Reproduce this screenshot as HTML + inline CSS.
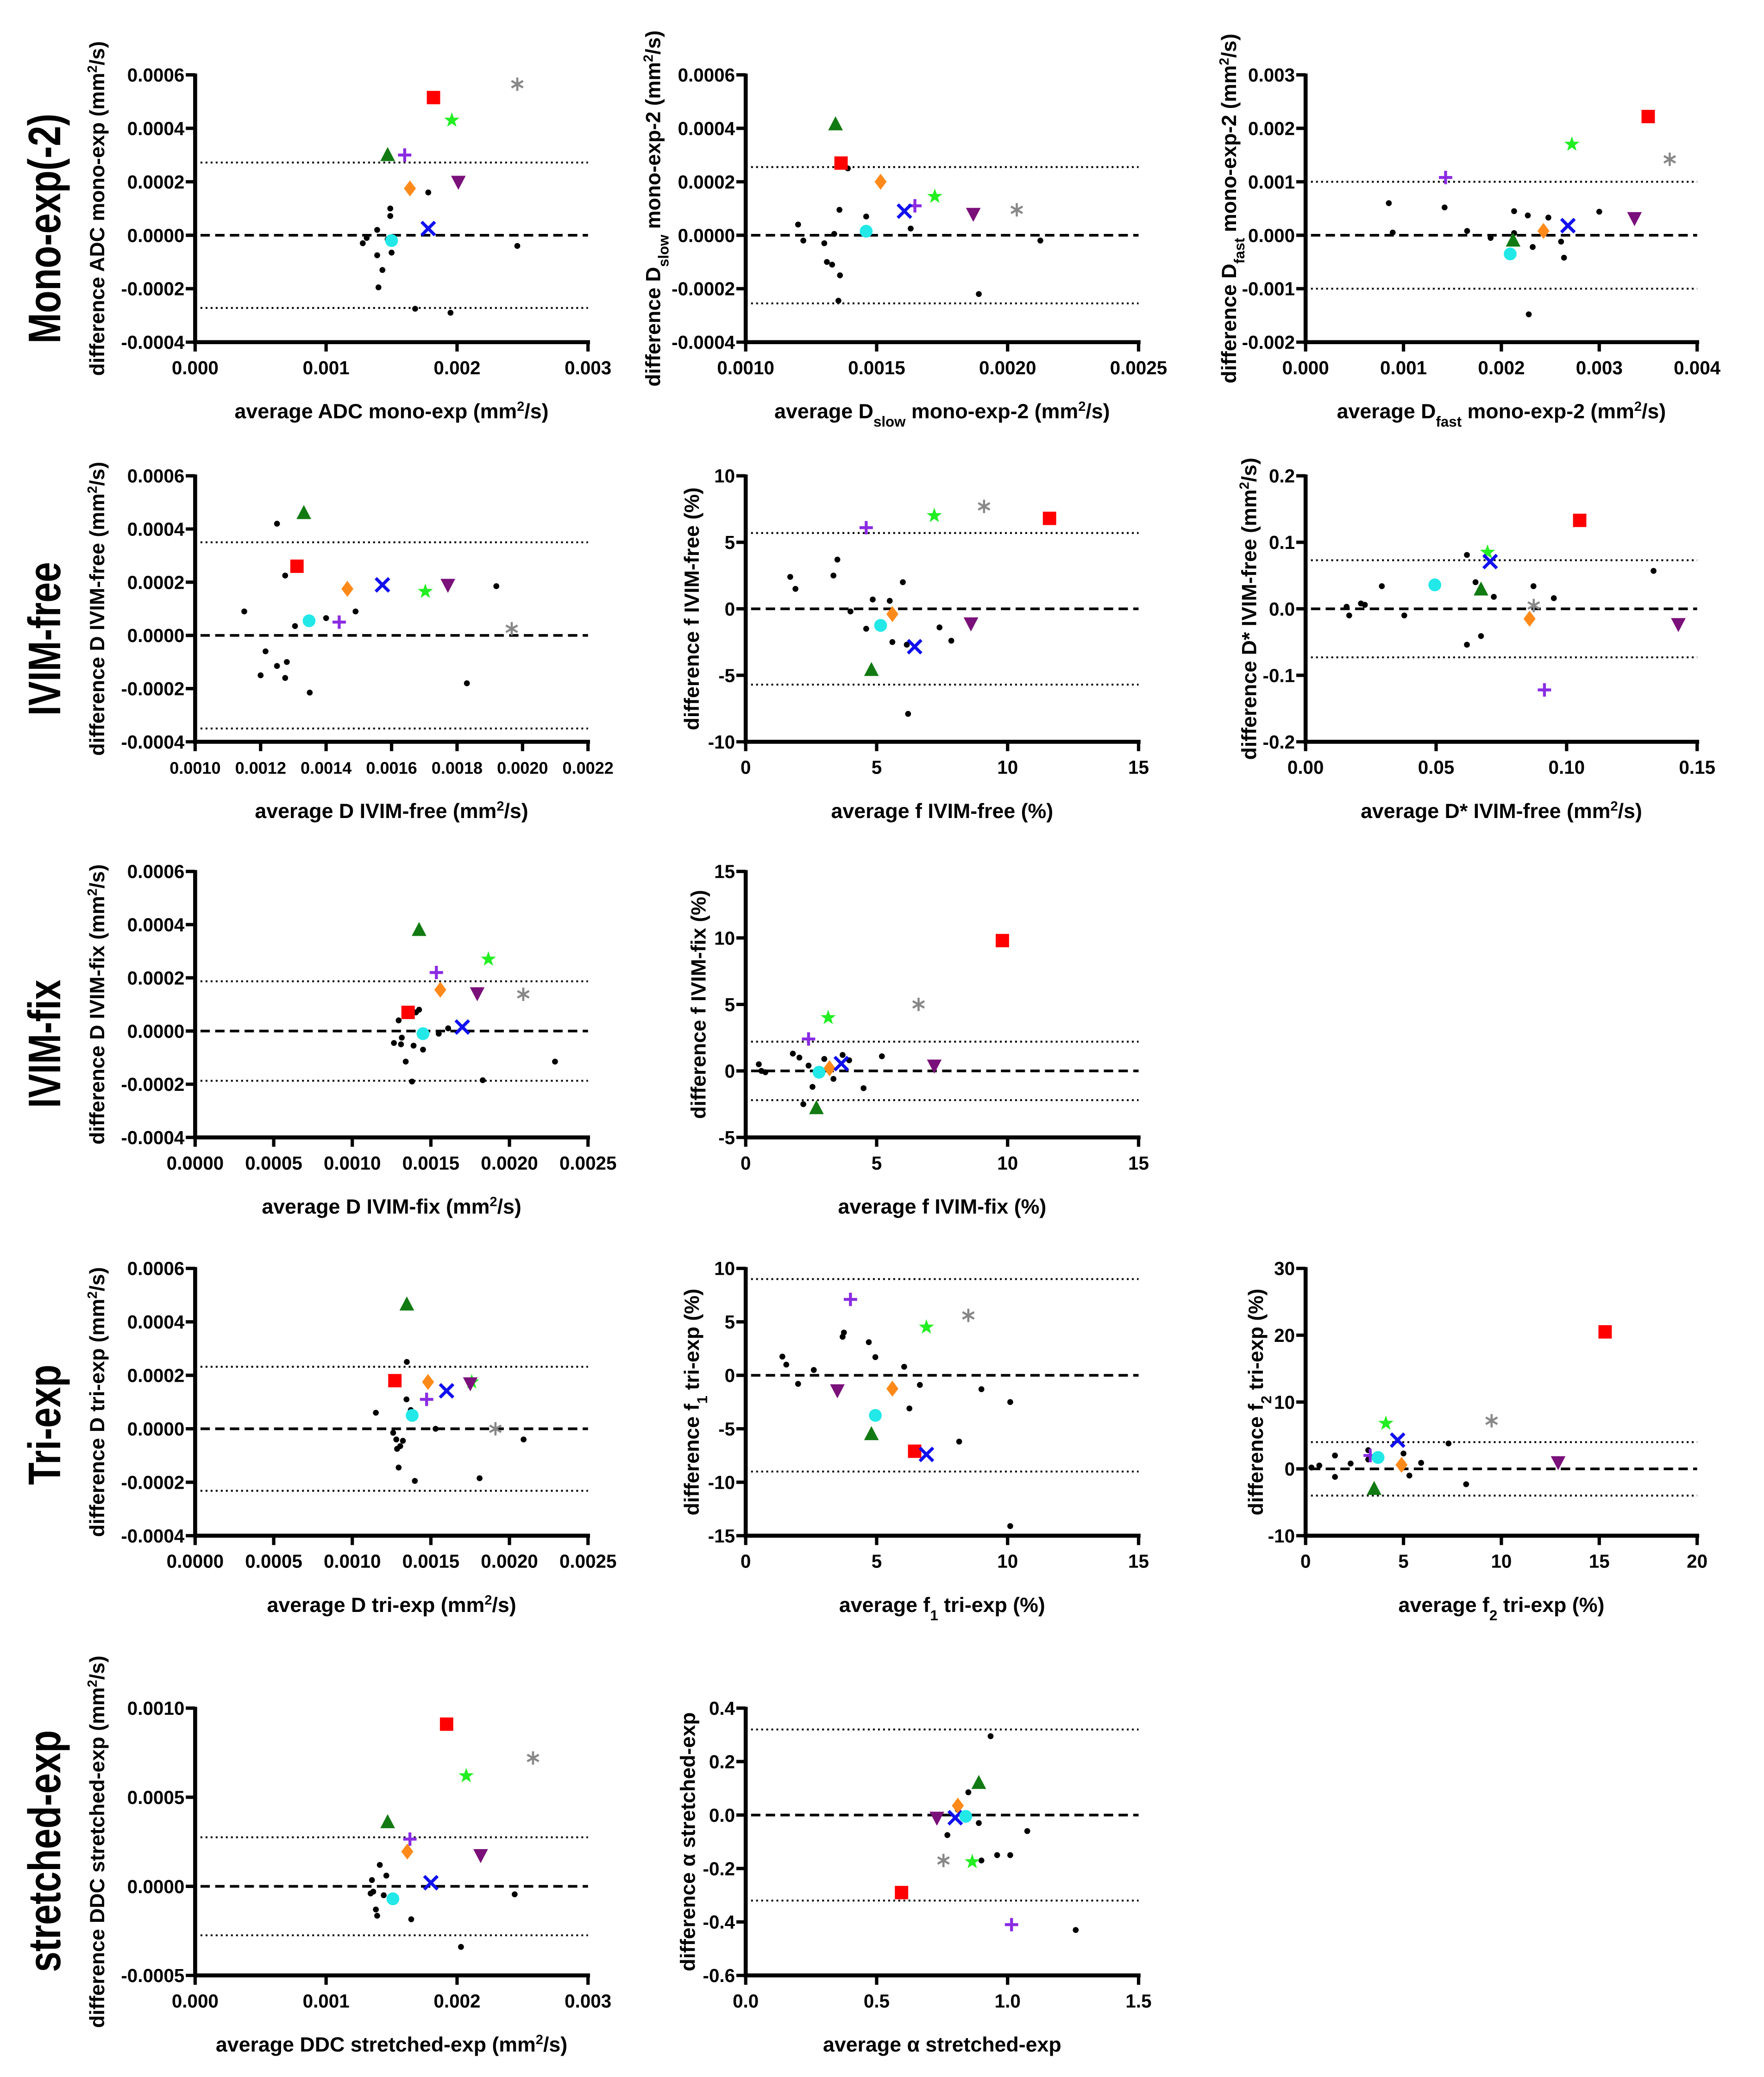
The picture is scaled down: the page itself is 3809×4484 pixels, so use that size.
<!DOCTYPE html>
<html><head><meta charset="utf-8"><style>
html,body{margin:0;padding:0;background:#fff;}
svg{display:block;}
text{font-family:"Liberation Sans",Arial,sans-serif;font-weight:bold;fill:#000;}
</style></head><body>
<svg id="fig" xmlns="http://www.w3.org/2000/svg" width="3809" height="4484" viewBox="0 0 1320 1554">
<rect x="0" y="0" width="1320" height="1554" fill="#fff"/>
<text transform="translate(45,171) rotate(-90)" text-anchor="middle" font-size="34" textLength="172" lengthAdjust="spacingAndGlyphs">Mono-exp(-2)</text>
<text transform="translate(45,478) rotate(-90)" text-anchor="middle" font-size="34" textLength="115" lengthAdjust="spacingAndGlyphs">IVIM-free</text>
<text transform="translate(45,781) rotate(-90)" text-anchor="middle" font-size="34" textLength="96" lengthAdjust="spacingAndGlyphs">IVIM-fix</text>
<text transform="translate(45,1066) rotate(-90)" text-anchor="middle" font-size="34" textLength="90" lengthAdjust="spacingAndGlyphs">Tri-exp</text>
<text transform="translate(45,1385) rotate(-90)" text-anchor="middle" font-size="34" textLength="181" lengthAdjust="spacingAndGlyphs">stretched-exp</text>
</svg>
<script>
// marker order: square, star, asterisk, plus, triangle, diamond, downtri, cross, circle
const markerTypes=['square','star','asterisk','plus','triangle','diamond','downtri','cross','circle'];
const markerColors=['#ff0000','#22ee22','#888888','#8a2be2','#127a12','#ff8a1a','#7a107a','#1010ee','#22e8e8'];

// Panel A: ADC mono-exp
const aXTicks=['0.000','0.001','0.002','0.003'];
const aYTicks=['-0.0004','-0.0002','0.0000','0.0002','0.0004','0.0006'];
const aMarkX=[0.00182,0.00196,0.00246,0.0016,0.00147,0.00164,0.00201,0.00178,0.0015];
const aMarkY=[0.000515,0.00043,0.000565,0.0003,0.0003,0.000175,0.0002,0.000025,-0.00002];
const aDotX=[0.00128,0.00131,0.00139,0.00139,0.00149,0.00149,0.00147,0.00143,0.0014,0.0015,0.00178,0.00168,0.00195,0.00246];
const aDotY=[-0.00003,-0.00001,0.00002,-0.000075,0.0001,0.000072,-0.000015,-0.00013,-0.000195,-0.000065,0.00016,-0.000275,-0.00029,-0.00004];
const aLimits=[-0.000272,0,0.000272];

// Panel B: Dslow mono-exp-2
const bXTicks=['0.0010','0.0015','0.0020','0.0025'];
const bYTicks=['-0.0004','-0.0002','0.0000','0.0002','0.0004','0.0006'];
const bMarkX=[0.001364,0.001722,0.002035,0.001646,0.001343,0.001515,0.001869,0.001606,0.00146];
const bMarkY=[0.00027,0.000145,0.000095,0.00011,0.000415,0.0002,0.00008,0.00009,0.000015];
const bDotX=[0.0012,0.00122,0.0013,0.00131,0.001338,0.001358,0.00133,0.00136,0.001354,0.00139,0.00146,0.00163,0.00189,0.002125];
const bDotY=[0.00004,-0.00002,-0.00003,-0.0001,0.000005,0.000095,-0.00011,-0.00015,-0.000245,0.00025,0.00007,0.000025,-0.00022,-0.00002];
const bLimits=[-0.000255,0,0.000255];

// Panel C: Dfast mono-exp-2
const cXTicks=['0.000','0.001','0.002','0.003','0.004'];
const cYTicks=['-0.002','-0.001','0.000','0.001','0.002','0.003'];
const cMarkX=[0.0035,0.00272,0.00372,0.00143,0.00212,0.00243,0.00336,0.00268,0.00209];
const cMarkY=[0.00222,0.0017,0.00142,0.00108,-0.0001,0.00008,0.00032,0.00018,-0.00035];
const cDotX=[0.00085,0.00089,0.00142,0.00165,0.00189,0.00213,0.00227,0.00213,0.00232,0.00228,0.00248,0.00261,0.00264,0.003];
const cDotY=[0.0006,0.00005,0.00052,0.00008,-0.00005,0.00045,0.00037,0.00004,-0.00022,-0.00148,0.00033,-0.00012,-0.00042,0.00044];
const cLimits=[-0.001,0,0.001];

// Panel D: D IVIM-free
const dXTicks=['0.0010','0.0012','0.0014','0.0016','0.0018','0.0020','0.0022'];
const dYTicks=['-0.0004','-0.0002','0.0000','0.0002','0.0004','0.0006'];
const dMarkX=[0.001311,0.001703,0.001967,0.00144,0.001332,0.001465,0.001772,0.001572,0.001348];
const dMarkY=[0.00026,0.000165,0.000025,0.00005,0.00046,0.000175,0.00019,0.00019,0.000055];
const dDotX=[0.00115,0.00125,0.001275,0.001305,0.0014,0.00149,0.001215,0.00125,0.0012,0.001275,0.00128,0.00135,0.00192,0.00183];
const dDotY=[0.00009,0.00042,0.000225,0.000035,0.000065,0.00009,-0.00006,-0.000115,-0.00015,-0.00016,-0.0001,-0.000215,0.000185,-0.00018];
const dLimits=[-0.00035,0,0.00035];

// Panel E: f IVIM-free
const eXTicks=['0','5','10','15'];
const eYTicks=['-10','-5','0','5','10'];
const eMarkX=[11.6,7.2,9.1,4.6,4.8,5.6,8.6,6.45,5.15];
const eMarkY=[6.8,7.0,7.7,6.1,-4.6,-0.4,-1.1,-2.85,-1.25];
const eDotX=[1.7,1.9,3.5,3.35,4.0,4.6,4.85,5.5,5.6,6.15,6.0,6.2,7.4,7.85];
const eDotY=[2.4,1.5,3.7,2.5,-0.2,-1.5,0.7,0.6,-2.5,-2.7,2.0,-7.9,-1.4,-2.4];
const eLimits=[-5.7,0,5.7];

// Panel F: D* IVIM-free
const fXTicks=['0.00','0.05','0.10','0.15'];
const fYTicks=['-0.2','-0.1','0.0','0.1','0.2'];
const fMarkX=[0.105,0.0697,0.0874,0.0915,0.0672,0.0858,0.1428,0.0707,0.0495];
const fMarkY=[0.133,0.085,0.005,-0.122,0.029,-0.015,-0.023,0.071,0.036];
const fDotX=[0.0157,0.0167,0.0212,0.0227,0.0292,0.0378,0.0618,0.0651,0.0721,0.0672,0.0618,0.0873,0.0951,0.1333];
const fDotY=[0.003,-0.01,0.008,0.006,0.034,-0.01,0.081,0.04,0.018,-0.041,-0.054,0.034,0.016,0.057];
const fLimits=[-0.073,0,0.073];

// Panel G: D IVIM-fix
const gXTicks=['0.0000','0.0005','0.0010','0.0015','0.0020','0.0025'];
const gYTicks=['-0.0004','-0.0002','0.0000','0.0002','0.0004','0.0006'];
const gMarkX=[0.001355,0.001866,0.002088,0.001535,0.001425,0.00156,0.001795,0.0017,0.00145];
const gMarkY=[0.00007,0.00027,0.000138,0.00022,0.00038,0.000155,0.000142,0.000015,-0.00001];
const gDotX=[0.001425,0.001405,0.001265,0.001315,0.00131,0.00134,0.00138,0.00145,0.00139,0.00155,0.00161,0.00183,0.00229,0.001295];
const gDotY=[0.00008,0.00007,-0.000045,-0.000025,-0.00005,-0.000115,-0.00019,-0.00007,-0.000055,-0.00001,0.00001,-0.000185,-0.000115,0.00004];
const gLimits=[-0.000187,0,0.000187];

// Panel H: f IVIM-fix
const hXTicks=['0','5','10','15'];
const hYTicks=['-5','0','5','10','15'];
const hMarkX=[9.8,3.15,6.6,2.4,2.7,3.2,7.2,3.65,2.8];
const hMarkY=[9.8,4.0,5.0,2.4,-2.8,0.2,0.4,0.55,-0.1];
const hDotX=[0.5,0.6,0.75,1.8,2.05,2.4,2.2,2.55,3.0,3.35,3.7,3.95,4.5,5.2];
const hDotY=[0.5,0.0,-0.1,1.3,1.0,0.4,-2.5,-1.2,0.9,-0.6,1.2,0.8,-1.3,1.1];
const hLimits=[-2.2,0,2.2];

// Panel I: D tri-exp
const iXTicks=['0.0000','0.0005','0.0010','0.0015','0.0020','0.0025'];
const iYTicks=['-0.0004','-0.0002','0.0000','0.0002','0.0004','0.0006'];
const iMarkX=[0.001271,0.00176,0.001911,0.001473,0.001347,0.001482,0.001751,0.0016,0.001381];
const iMarkY=[0.00018,0.000175,0.0,0.00011,0.000465,0.000175,0.00017,0.000142,0.00005];
const iDotX=[0.001347,0.001372,0.00115,0.00126,0.00128,0.001285,0.001305,0.001322,0.001295,0.001398,0.00153,0.00181,0.00209,0.001345];
const iDotY=[0.00025,0.00007,0.00006,-0.000015,-0.00004,-0.000075,-0.000065,-0.000045,-0.000145,-0.000195,0.0,-0.000185,-0.00004,0.00011];
const iLimits=[-0.000232,0,0.000232];

// Panel J: f1 tri-exp
const jXTicks=['0','5','10','15'];
const jYTicks=['-15','-10','-5','0','5','10'];
const jMarkX=[6.45,6.9,8.5,4.0,4.8,5.6,3.5,6.9,4.95];
const jMarkY=[-7.1,4.5,5.6,7.1,-5.5,-1.25,-1.4,-7.4,-3.75];
const jDotX=[1.4,1.55,2.0,2.6,3.7,3.75,4.7,4.95,6.25,6.05,6.65,8.15,9.0,10.1,10.1];
const jDotY=[1.75,1.0,-0.8,0.5,3.6,4.0,3.1,1.7,-3.1,0.8,-0.9,-6.2,-1.3,-2.5,-14.1];
const jLimits=[-9.0,0,9.0];

// Panel K: f2 tri-exp
const kXTicks=['0','5','10','15','20'];
const kYTicks=['-10','0','10','20','30'];
const kMarkX=[15.3,4.1,9.5,3.3,3.5,4.9,12.9,4.7,3.7];
const kMarkY=[20.5,6.8,7.2,2.0,-3.0,0.6,1.0,4.3,1.7];
const kDotX=[0.3,0.7,1.5,1.5,2.3,3.2,5.0,5.3,5.9,7.3,8.2,3.2];
const kDotY=[0.2,0.5,2.0,-1.2,0.8,2.8,2.3,-1.0,0.9,3.8,-2.3,1.4];
const kLimits=[-4.0,0,4.0];

// Panel L: DDC stretched-exp
const lXTicks=['0.000','0.001','0.002','0.003'];
const lYTicks=['-0.0005','0.0000','0.0005','0.0010'];
const lMarkX=[0.00192,0.00207,0.00258,0.00164,0.00147,0.00162,0.00218,0.0018,0.00151];
const lMarkY=[0.00091,0.00062,0.00072,0.000265,0.00036,0.000195,0.000175,0.00002,-0.00007];
const lDotX=[0.00135,0.00136,0.00138,0.00139,0.00141,0.00144,0.00146,0.00151,0.00165,0.00203,0.00244,0.00134];
const lDotY=[0.000035,-0.00003,-0.00013,-0.000165,0.00012,-0.00005,0.00006,-0.000075,-0.000185,-0.00034,-0.000045,-0.00004];
const lLimits=[-0.000275,0,0.000275];

// Panel M: alpha stretched-exp
const mXTicks=['0.0','0.5','1.0','1.5'];
const mYTicks=['-0.6','-0.4','-0.2','0.0','0.2','0.4'];
const mMarkX=[0.595,0.865,0.755,1.015,0.89,0.81,0.73,0.8,0.84];
const mMarkY=[-0.29,-0.175,-0.17,-0.41,0.12,0.035,-0.01,-0.01,-0.005];
const mDotX=[0.935,0.85,0.77,0.89,0.9,0.96,1.01,1.075,1.26,0.81];
const mDotY=[0.295,0.085,-0.075,-0.03,-0.17,-0.15,-0.15,-0.06,-0.43,0.02];
const mLimits=[-0.32,0,0.32];

const NS='http://www.w3.org/2000/svg';
const svg=document.getElementById('fig');
function mk(tag,attrs,parent){const e=document.createElementNS(NS,tag);for(const k in attrs)e.setAttribute(k,attrs[k]);(parent||svg).appendChild(e);return e;}

function titleText(parent,parts,x,y,rot,fs,name){
  const t=mk('text',{x:0,y:0,'text-anchor':'middle','font-size':fs,transform:'translate('+x+','+y+')'+(rot?' rotate(-90)':'')},parent);
  
  
  parts.forEach(p=>{
    const s=document.createElementNS(NS,'tspan');
    s.textContent=p[0];
    if(p[1]==='sup'){s.setAttribute('baseline-shift','super');s.setAttribute('font-size',fs*0.65);}
    if(p[1]==='sub'){s.setAttribute('baseline-shift','sub');s.setAttribute('font-size',fs*0.7);}
    t.appendChild(s);
  });
}

function panel(cfg){
  const g=mk('g',{});
  
  
  const xt=cfg.xt.map(parseFloat), yt=cfg.yt.map(parseFloat);
  const xmin=xt[0],xmax=xt[xt.length-1],ymin=yt[0],ymax=yt[yt.length-1];
  const X=v=>cfg.x0+(v-xmin)/(xmax-xmin)*(cfg.x1-cfg.x0);
  const Y=v=>cfg.y1-(v-ymin)/(ymax-ymin)*(cfg.y1-cfg.y0);
  // limits
  cfg.lim.forEach((v,i)=>{
    const l=mk('line',{x1:cfg.x0+4,x2:cfg.x1,y1:Y(v),y2:Y(v),stroke:'#000','stroke-width':i===1?2:1.4,'stroke-dasharray':i===1?'7,4':'1.4,2.4'},g);
    
    
  });
  // axes
  const ya=mk('line',{x1:cfg.x0,x2:cfg.x0,y1:cfg.y0-1,y2:cfg.y1+1.5,stroke:'#000','stroke-width':3},g);
  
  
  const xa=mk('line',{x1:cfg.x0-1.5,x2:cfg.x1+1.5,y1:cfg.y1,y2:cfg.y1,stroke:'#000','stroke-width':3},g);
  
  
  xt.forEach((v,i)=>{
    mk('line',{x1:X(v),x2:X(v),y1:cfg.y1,y2:cfg.y1+7,stroke:'#000','stroke-width':2.5},g);
    const t=mk('text',{x:X(v),y:cfg.y1+24,'text-anchor':'middle','font-size':cfg.xfs||14},g);
    t.textContent=cfg.xt[i];
    
    
  });
  yt.forEach((v,i)=>{
    mk('line',{x1:cfg.x0-7,x2:cfg.x0,y1:Y(v),y2:Y(v),stroke:'#000','stroke-width':2.5},g);
    const t=mk('text',{x:cfg.x0-8,y:Y(v)+5,'text-anchor':'end','font-size':14},g);
    t.textContent=cfg.yt[i];
    
    
  });
  // dots
  cfg.dx.forEach((v,i)=>{
    const c=mk('circle',{cx:X(v),cy:Y(cfg.dy[i]),r:2.2,fill:'#000'},g);
    
    
  });
  // markers
  cfg.mx.forEach((v,i)=>{
    const cx=X(v),cy=Y(cfg.my[i]),col=markerColors[i],s=5;
    let e;
    switch(markerTypes[i]){
      case 'square': e=mk('rect',{x:cx-s,y:cy-s,width:2*s,height:2*s,fill:col},g);break;
      case 'star':{let p=[];for(let k=0;k<10;k++){const r=k%2?2.4:6,a=-Math.PI/2+k*Math.PI/5;p.push((cx+r*Math.cos(a)).toFixed(2)+','+(cy+r*Math.sin(a)).toFixed(2));}
        e=mk('polygon',{points:p.join(' '),fill:col},g);break;}
      case 'asterisk':{e=mk('g',{stroke:col,'stroke-width':1.6},g);for(let k=0;k<3;k++){const a=Math.PI/2+k*Math.PI/3;mk('line',{x1:cx-s*Math.cos(a),y1:cy-s*Math.sin(a),x2:cx+s*Math.cos(a),y2:cy+s*Math.sin(a)},e);}break;}
      case 'plus': e=mk('path',{d:`M${cx-s} ${cy}H${cx+s}M${cx} ${cy-s}V${cy+s}`,stroke:col,'stroke-width':2.2,fill:'none'},g);break;
      case 'triangle': e=mk('polygon',{points:`${cx},${cy-6} ${cx-5.5},${cy+4.5} ${cx+5.5},${cy+4.5}`,fill:col},g);break;
      case 'diamond': e=mk('polygon',{points:`${cx},${cy-6} ${cx+4.5},${cy} ${cx},${cy+6} ${cx-4.5},${cy}`,fill:col},g);break;
      case 'downtri': e=mk('polygon',{points:`${cx-5.5},${cy-4.5} ${cx+5.5},${cy-4.5} ${cx},${cy+6}`,fill:col},g);break;
      case 'cross': e=mk('path',{d:`M${cx-s} ${cy-s}L${cx+s} ${cy+s}M${cx+s} ${cy-s}L${cx-s} ${cy+s}`,stroke:col,'stroke-width':2.4,fill:'none'},g);break;
      case 'circle': e=mk('circle',{cx:cx,cy:cy,r:4.8,fill:col},g);break;
    }
    
    
  });
  titleText(g,cfg.xtitle,(cfg.x0+cfg.x1)/2,cfg.y1+57,false,15.5,'x-axis-title');
  titleText(g,cfg.ytitle,cfg.ytx,(cfg.y0+cfg.y1)/2,true,15.5,'y-axis-title');
}

const C1=[146,440],C2=[558,852],C3=[977,1270];
const R1=[56,256],R2=[356,555],R3=[652,851],R4=[949,1149],R5=[1278,1478];
const mm=[['(mm'],['2','sup'],['/s)']];
panel({name:'panel-adc-mono-exp',x0:C1[0],x1:C1[1],y0:R1[0],y1:R1[1],xt:aXTicks,yt:aYTicks,mx:aMarkX,my:aMarkY,dx:aDotX,dy:aDotY,lim:aLimits,ytx:78,
  xtitle:[['average ADC mono-exp ']].concat(mm),ytitle:[['difference ADC mono-exp ']].concat(mm)});
panel({name:'panel-dslow-mono-exp-2',x0:C2[0],x1:C2[1],y0:R1[0],y1:R1[1],xt:bXTicks,yt:bYTicks,mx:bMarkX,my:bMarkY,dx:bDotX,dy:bDotY,lim:bLimits,ytx:494,
  xtitle:[['average D'],['slow','sub'],[' mono-exp-2 ']].concat(mm),ytitle:[['difference D'],['slow','sub'],[' mono-exp-2 ']].concat(mm)});
panel({name:'panel-dfast-mono-exp-2',x0:C3[0],x1:C3[1],y0:R1[0],y1:R1[1],xt:cXTicks,yt:cYTicks,mx:cMarkX,my:cMarkY,dx:cDotX,dy:cDotY,lim:cLimits,ytx:925,
  xtitle:[['average D'],['fast','sub'],[' mono-exp-2 ']].concat(mm),ytitle:[['difference D'],['fast','sub'],[' mono-exp-2 ']].concat(mm)});
panel({name:'panel-d-ivim-free',x0:C1[0],x1:C1[1],y0:R2[0],y1:R2[1],xt:dXTicks,yt:dYTicks,mx:dMarkX,my:dMarkY,dx:dDotX,dy:dDotY,lim:dLimits,ytx:78,xfs:12.5,
  xtitle:[['average D IVIM-free ']].concat(mm),ytitle:[['difference D IVIM-free ']].concat(mm)});
panel({name:'panel-f-ivim-free',x0:C2[0],x1:C2[1],y0:R2[0],y1:R2[1],xt:eXTicks,yt:eYTicks,mx:eMarkX,my:eMarkY,dx:eDotX,dy:eDotY,lim:eLimits,ytx:523,
  xtitle:[['average f IVIM-free (%)']],ytitle:[['difference f IVIM-free (%)']]});
panel({name:'panel-dstar-ivim-free',x0:C3[0],x1:C3[1],y0:R2[0],y1:R2[1],xt:fXTicks,yt:fYTicks,mx:fMarkX,my:fMarkY,dx:fDotX,dy:fDotY,lim:fLimits,ytx:940,
  xtitle:[['average D* IVIM-free ']].concat(mm),ytitle:[['difference D* IVIM-free ']].concat(mm)});
panel({name:'panel-d-ivim-fix',x0:C1[0],x1:C1[1],y0:R3[0],y1:R3[1],xt:gXTicks,yt:gYTicks,mx:gMarkX,my:gMarkY,dx:gDotX,dy:gDotY,lim:gLimits,ytx:78,
  xtitle:[['average D IVIM-fix ']].concat(mm),ytitle:[['difference D IVIM-fix ']].concat(mm)});
panel({name:'panel-f-ivim-fix',x0:C2[0],x1:C2[1],y0:R3[0],y1:R3[1],xt:hXTicks,yt:hYTicks,mx:hMarkX,my:hMarkY,dx:hDotX,dy:hDotY,lim:hLimits,ytx:528,
  xtitle:[['average f IVIM-fix (%)']],ytitle:[['difference f IVIM-fix (%)']]});
panel({name:'panel-d-tri-exp',x0:C1[0],x1:C1[1],y0:R4[0],y1:R4[1],xt:iXTicks,yt:iYTicks,mx:iMarkX,my:iMarkY,dx:iDotX,dy:iDotY,lim:iLimits,ytx:78,
  xtitle:[['average D tri-exp ']].concat(mm),ytitle:[['difference D tri-exp ']].concat(mm)});
panel({name:'panel-f1-tri-exp',x0:C2[0],x1:C2[1],y0:R4[0],y1:R4[1],xt:jXTicks,yt:jYTicks,mx:jMarkX,my:jMarkY,dx:jDotX,dy:jDotY,lim:jLimits,ytx:523,
  xtitle:[['average f'],['1','sub'],[' tri-exp (%)']],ytitle:[['difference f'],['1','sub'],[' tri-exp (%)']]});
panel({name:'panel-f2-tri-exp',x0:C3[0],x1:C3[1],y0:R4[0],y1:R4[1],xt:kXTicks,yt:kYTicks,mx:kMarkX,my:kMarkY,dx:kDotX,dy:kDotY,lim:kLimits,ytx:945,
  xtitle:[['average f'],['2','sub'],[' tri-exp (%)']],ytitle:[['difference f'],['2','sub'],[' tri-exp (%)']]});
panel({name:'panel-ddc-stretched-exp',x0:C1[0],x1:C1[1],y0:R5[0],y1:R5[1],xt:lXTicks,yt:lYTicks,mx:lMarkX,my:lMarkY,dx:lDotX,dy:lDotY,lim:lLimits,ytx:78,
  xtitle:[['average DDC stretched-exp ']].concat(mm),ytitle:[['difference DDC stretched-exp ']].concat(mm)});
panel({name:'panel-alpha-stretched-exp',x0:C2[0],x1:C2[1],y0:R5[0],y1:R5[1],xt:mXTicks,yt:mYTicks,mx:mMarkX,my:mMarkY,dx:mDotX,dy:mDotY,lim:mLimits,ytx:520,
  xtitle:[['average \u03b1 stretched-exp']],ytitle:[['difference \u03b1 stretched-exp']]});
</script>
</body></html>
